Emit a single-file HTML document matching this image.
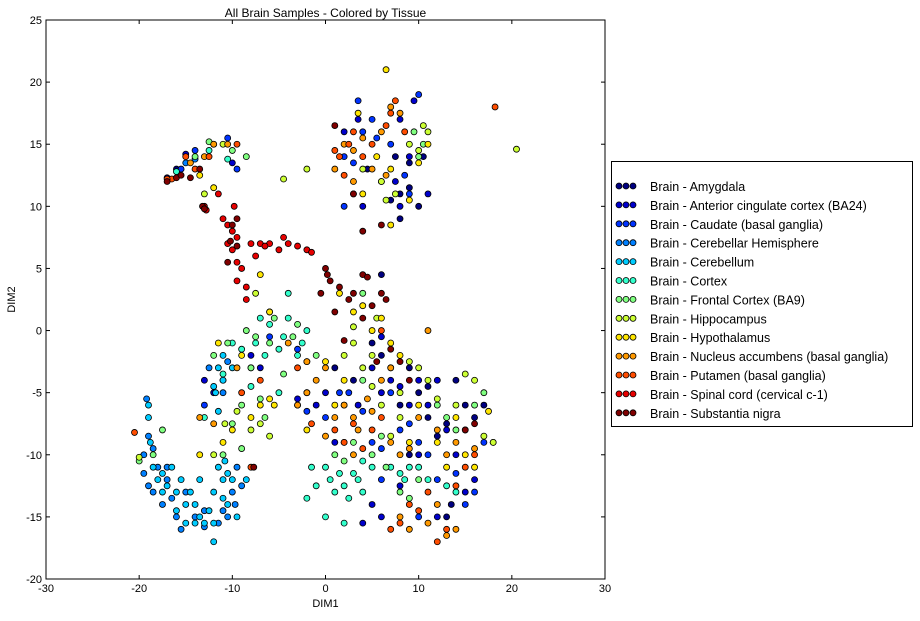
<!DOCTYPE html>
<html><head><meta charset="utf-8"><style>
body{margin:0;background:#fff;font-family:"Liberation Sans",sans-serif;}
svg text{font-family:"Liberation Sans",sans-serif;}
</style></head><body>
<svg id="chart" width="920" height="616" xmlns="http://www.w3.org/2000/svg">
<rect width="920" height="616" fill="#fff"/>
<g id="marks"></g>
<g id="axes"></g>
<g id="legend"></g>
</svg>
<script>
const tissues=["Brain - Amygdala","Brain - Anterior cingulate cortex (BA24)","Brain - Caudate (basal ganglia)","Brain - Cerebellar Hemisphere","Brain - Cerebellum","Brain - Cortex","Brain - Frontal Cortex (BA9)","Brain - Hippocampus","Brain - Hypothalamus","Brain - Nucleus accumbens (basal ganglia)","Brain - Putamen (basal ganglia)","Brain - Spinal cord (cervical c-1)","Brain - Substantia nigra"];
const colors=["#000080","#0000cc","#0033ff","#0080ff","#00ccff","#33ffcc","#80ff80","#ccff33","#ffe600","#ff9900","#ff4d00","#e60000","#800000"];
const xTicks=[-30,-20,-10,0,10,20,30];
const yTicks=[-20,-15,-10,-5,0,5,10,15,20,25];
const amygdala=[[-16,13],[-17,12.3],[6,4.5],[7,-3],[8,-6],[9,-3],[10,-5],[11,-4.5],[12,-8.5],[13,-7.5],[14,-4],[15,-6],[16,-7],[17,-6],[18,-9],[9,-10],[11,-7],[3,-4],[1,-3],[7,10.5],[8,11],[9,11.5],[7.5,14],[10,10],[8,9],[9,13.5],[10.5,14],[4.5,13],[5,-1],[6,-2],[13,-15],[13.5,-14]];
const acc=[[-15,14.2],[-10,13.5],[-8,-2],[-12,-5],[-13,-4],[-7,-3],[-3,-5.5],[-1,-6],[0,-5],[1,-9],[2,-9],[3.5,-6],[5,-3],[6,-5],[7,-4],[8,-4.5],[9,-6],[10,-4],[11,-6],[12,-4],[13,-8],[14,-10],[15,-13],[16,-12],[10,-10],[12,-15],[5,-14],[4,-15.5],[6,-15],[8,-12.5],[3,11],[4,10],[6,12],[7.5,12],[8,10],[9,14],[2,16],[3.5,17],[8,17],[9.5,18.5],[11,11],[6,-0.5]];
const caudate=[[-10.5,15.5],[-15.5,13],[-14,14.5],[-9.5,13],[-3,-1.5],[-2,-6.5],[0,-7],[1.5,-5],[2.5,-5],[4,-6.5],[5,-9],[6,-9.5],[7,-5],[8,-8],[9,-7.5],[10,-9],[11,-10],[12,-12],[14,-11.5],[15,-14],[16,-13],[10,-15],[6,-12],[-11,-4],[-13,-6],[2,14],[3,13.5],[4,16],[5,17],[5.5,15.5],[9,11],[8.5,12.5],[2,10],[7,15],[10,19],[3.5,18.5],[-6,-0.5],[17,-9]];
const cerebHemi=[[-19.5,-11.5],[-19,-12.5],[-18.5,-13],[-18,-11],[-17.5,-14],[-17,-11],[-16.5,-13.5],[-16,-15],[-15,-13],[-14,-15],[-13,-14.5],[-11.5,-15.5],[-11,-14.5],[-10.5,-15],[-10,-13],[-9.5,-11],[-9,-12.5],[-19.2,-5.5],[-19,-8.5],[-19.5,-10],[-18.5,-9.5],[-11,-5],[-10.5,-2.5],[-12.5,-3],[-13,-15.8],[-15.5,-16],[-17,-12],[-9.7,-14],[-14,13.8],[-15,13.5]];
const cerebellum=[[-18.5,-11],[-18,-12],[-17.5,-11.5],[-17,-12.5],[-16.5,-11],[-16,-13],[-15.5,-12],[-15,-14],[-14.5,-13],[-16,-14.5],[-15,-15.5],[-14,-14],[-13.5,-15],[-13,-15.5],[-12,-15.5],[-12,-13],[-11.5,-11],[-11,-12],[-10.5,-11.5],[-10,-12],[-11,-13.5],[-10.5,-14],[-12.5,-14.5],[-14,-15.5],[-12,-17],[-19,-6],[-19,-7],[-18.8,-9],[-11.5,-3],[-11,-4],[-11.8,-5],[-11,-2],[-10,-3],[-11.5,-6.5],[-12,-4.5],[-9.5,-15],[-10.8,-10.5],[-17.5,-13],[-13.5,-12],[-8.5,-12]];
const cortex=[[-7,1],[-6.5,-2],[-6,0.5],[-5,-1.5],[-4.5,-0.5],[-4,1],[-3,-2],[-2.5,-1],[-2,0],[-8,-3],[-9,-1.5],[-10,-1],[-11,-3.5],[-3,-6],[0,-11],[0.5,-12],[1,-13],[1.5,-11.5],[2,-12.5],[2.5,-13.5],[3,-11.5],[3.5,-12],[4,-13],[-1,-12.5],[0,-15],[2,-15.5],[-1.5,-11],[-2,-13.5],[7,-11],[8,-11.5],[8.5,-12],[9,-11],[10,-11],[11,-12],[13,-12.5],[14,-13],[5,-11],[-5,-5],[-8,-4.5],[-4,3],[-13,-7],[-16,12.8],[-12.5,14.5],[-10.5,13.8],[-7.5,-1],[4,-10.5]];
const frontal=[[-8.5,0],[-7.5,-0.5],[-6,-1],[-5.5,1],[-3.5,-0.5],[-3,0.5],[-2,-2.5],[-1,-2],[-9,-6],[-10,-7.5],[-7,-5.5],[-6.5,-7],[-12,-2],[-10.5,-1],[-17.5,-8],[-18.5,-10],[-20,-10.5],[-9,-9.5],[-11,-10],[-4.5,-3.5],[1,-10],[2,-10.5],[3,-9],[5,-10],[6,-8.5],[6.5,-11],[8,-13],[9,-13.5],[10,-12],[12,-6],[13,-7],[14,-8],[16,-6],[17,-5],[2,-6],[4,-4],[-8,-3],[-12,15],[-10,14.5],[-8.5,14],[-12.5,15.2],[-14,14],[4,3],[10,14],[10.5,15],[9.5,16]];
const hippocampus=[[-13,11],[-12,-10],[-10.8,-7.5],[-9.5,-6.5],[-8,-8],[-7,-7.5],[-6,-8.5],[-2,-5],[-6,1.5],[-11,15],[-7.5,3],[2,-2],[3,-1],[4,-3],[5,-4.5],[6,-6],[8,-5],[9,-2.5],[10,-3],[11,-4],[12,-5.5],[14,-6],[15,-3.5],[16,-4],[17,-8.5],[18,-9],[8,-7],[7,-8.5],[-4.5,12.2],[4,13],[6,12],[9,15],[10,14.5],[10.5,16.5],[11,16],[6.5,10.5],[7.5,11],[20.5,14.6],[-2,13],[-20,-10.2],[5,-2],[3,0.3],[5.5,1]];
const hypothalamus=[[-13.5,-10],[-11,-9],[-10,-8],[-8,-7],[-7,-6],[-6,1.5],[-11.5,-1],[-9,-2],[-6,-5.5],[-5.5,-6],[0,-2.5],[1,-6],[2,-4],[3,1.5],[4,2],[5,0],[6,1],[7,-1],[8,-2],[10,-6],[12,-9],[13,-11],[14,-7],[15,-10],[16,-11],[17.5,-6.5],[6.5,21],[10,13.5],[11,15],[9,10.5],[7,13],[5.5,14],[3.5,17.5],[4,11],[7,8.5],[-7,4.5],[-12,11.5],[-13.5,12.5],[-2,-8],[1.5,3],[9,-9]];
const accumbens=[[-13,14],[-12,15],[-14.5,13.5],[-10.5,15],[-13.5,-7],[-9.5,-3],[-12,-7.5],[-4,-1],[-2,-2.5],[-1,-4],[-3,-6],[-2,-5],[0,-3],[1,-7],[2,-6],[3,-7],[3.5,-8],[4.5,-5.5],[6,-4],[7,-9],[8,-10],[9,-9.5],[10,-7],[12,-8],[13,-10],[14,-9],[15,-8],[16,-9.5],[8,-15],[9,-16],[11,-15.5],[12,-14],[13,-16.5],[14,-16],[2,15],[3,14.5],[4,15.5],[6,16],[7,18],[8,17.5],[1,13],[3,12],[5,13],[6.5,12.5],[3,-10],[0,-8.5],[5,-6.5],[7,-3],[11,0]];
const putamen=[[-14,13],[-15,14],[-16.5,12.2],[-12.5,14],[-9.5,15],[-20.5,-8.2],[-8,-11],[-7,-4],[-9,-5],[-3,-3],[-1.5,-7.5],[1,-8],[2,-9],[3,-7.5],[4,-9.5],[5,-8],[6,-7],[7,-16],[8,-15.5],[9,-14],[10,-14.5],[11,-13],[12,-17],[13,-16],[14,-12.5],[15,-11],[16,-10],[1.5,14],[2.5,15],[3,16],[4,14],[5,15],[6.5,16.5],[7,17.5],[7.5,18.5],[8.5,16],[18.2,18],[2,12.5],[1,14.5],[6,0],[-17,12.2]];
const spinal=[[-13,10],[-12.8,9.7],[-11,9],[-10.5,8.5],[-10,8],[-11.5,11],[-9.5,7.5],[-10,6.5],[-9.5,5.5],[-9,5],[-9.5,4],[-8.5,3.5],[-8.5,2.5],[-7,7],[-6,7],[-4.5,7.5],[-4,7],[-3,6.8],[-2,6.5],[-1.5,6.3],[-5,6.5],[-8,7],[-10.5,7],[-9.8,10],[-7.5,6],[-6.5,6.8]];
const nigra=[[-17,12],[-16,12.3],[-15.5,12.5],[-14.5,12.3],[-13.5,13],[-13.2,10],[-13,9.8],[-10,8.5],[-9.5,9],[-10.2,7.2],[-9.5,6.8],[-10.5,5.5],[0,5],[0.2,4.5],[0.5,4],[1.5,3.5],[3,3],[2.5,2.5],[4,4.5],[4.5,4.3],[5,2],[6,3],[6.5,2.5],[4,1],[7,-1.5],[8,-2.5],[9,-4],[1,1.5],[-0.5,3],[15,-8],[16,-7.5],[2,-0.8],[1,16.5],[4,8],[3,11],[-7.7,-11],[6,8.5],[5.5,-2.5]];
const series=[amygdala,acc,caudate,cerebHemi,cerebellum,cortex,frontal,hippocampus,hypothalamus,accumbens,putamen,spinal,nigra];

const NS="http://www.w3.org/2000/svg";
const L=46,R=605,T=20,B=579;
const xs=v=>L+(v+30)/60*(R-L);
const ys=v=>B-(v+20)/45*(B-T);
function mk(tag,attrs,parent){const e=document.createElementNS(NS,tag);for(const k in attrs)e.setAttribute(k,attrs[k]);parent.appendChild(e);return e;}
const marks=document.getElementById('marks');
series.forEach((pts,si)=>{
  const g=mk('g',{},marks);
  
  
  pts.forEach(p=>{
    const c=mk('circle',{cx:xs(p[0]),cy:ys(p[1]),r:3,fill:colors[si],stroke:'#000','stroke-width':0.8},g);
    
    
  });
});
const ax=document.getElementById('axes');
const frame=mk('rect',{x:L,y:T,width:R-L,height:B-T,fill:'none',stroke:'#000','stroke-width':1},ax);


xTicks.forEach(t=>{
  const x=xs(t);
  mk('line',{x1:x,x2:x,y1:B,y2:B-4,stroke:'#000'},ax);
  mk('line',{x1:x,x2:x,y1:T,y2:T+4,stroke:'#000'},ax);
  const tx=mk('text',{x:x,y:B+13,'text-anchor':'middle','font-size':11},ax);
  tx.textContent=t;
  
  
});
yTicks.forEach(t=>{
  const y=ys(t);
  mk('line',{x1:L,x2:L+4,y1:y,y2:y,stroke:'#000'},ax);
  mk('line',{x1:R,x2:R-4,y1:y,y2:y,stroke:'#000'},ax);
  const tx=mk('text',{x:L-4,y:y+4,'text-anchor':'end','font-size':11},ax);
  tx.textContent=t;
  
  
});
const title=mk('text',{x:(L+R)/2,y:17,'text-anchor':'middle','font-size':12},ax);
title.textContent='All Brain Samples - Colored by Tissue';


const xl=mk('text',{x:(L+R)/2,y:607,'text-anchor':'middle','font-size':11},ax);
xl.textContent='DIM1';


const yl=mk('text',{x:15,y:(T+B)/2,'text-anchor':'middle','font-size':11,transform:'rotate(-90 15 '+((T+B)/2)+')'},ax);
yl.textContent='DIM2';



const lg=document.getElementById('legend');
mk('rect',{x:611.5,y:161.5,width:301,height:265,fill:'#fff',stroke:'#000','stroke-width':1},lg);
tissues.forEach((name,i)=>{
  const y=187+i*18.9;
  const g=mk('g',{},lg);
  
  
  [619,626,633].forEach(x=>mk('circle',{cx:x,cy:y-1,r:3,fill:colors[i],stroke:'#000','stroke-width':0.8},g));
  const t=mk('text',{x:650,y:y+4,'font-size':12.5},g);
  t.textContent=name;
});
</script>
</body></html>
